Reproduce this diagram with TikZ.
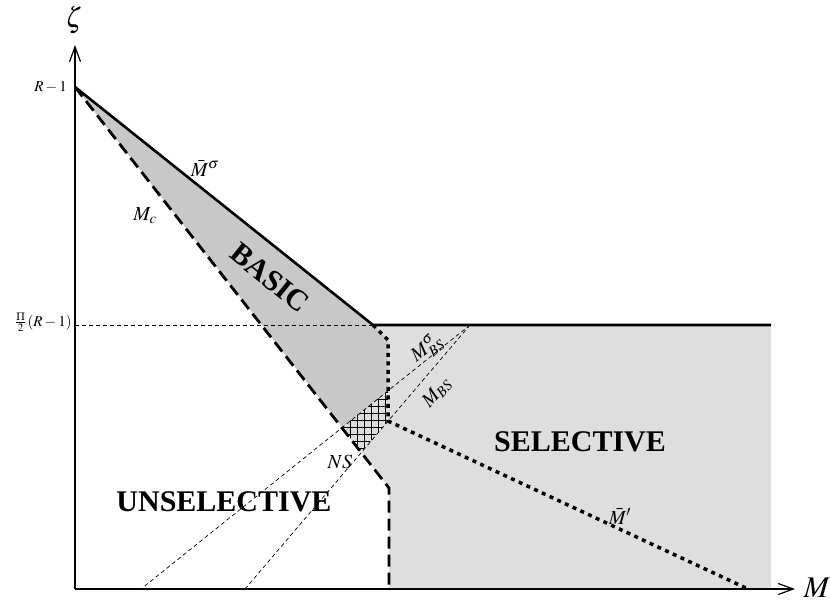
\documentclass[tikz,border=0pt]{standalone}
\usepackage{mathptmx}
\usepackage{fontspec}
\setmainfont{Liberation Serif}
\usetikzlibrary{arrows.meta}
\definecolor{basicg}{HTML}{C8C8C8}
\definecolor{selg}{HTML}{DEDEDE}
\tikzset{
  ax/.style={-{Straight Barb[length=15pt,width=11pt]},line width=1.2pt},
  bnd/.style={line width=2.6pt,line join=round},
  crit/.style={line width=2.8pt,dash pattern=on 12pt off 6pt},
  dotb/.style={line width=3.5pt,dash pattern=on 4pt off 4.5pt},
  aux/.style={line width=0.7pt,dash pattern=on 4pt off 3pt},
  lbl/.style={font=\fontsize{20}{22}\selectfont,inner sep=0pt},
  reg/.style={font=\bfseries\fontsize{30}{32}\selectfont,inner sep=0pt},
  tick/.style={font=\fontsize{15}{17}\selectfont,anchor=east,inner sep=0pt}
}
\begin{document}
\begin{tikzpicture}[x=1pt,y=-1pt]
\useasboundingbox (0,0) rectangle (830,607);
% key points
\coordinate (O) at (75,589);
\coordinate (Ytip) at (75,45);
\coordinate (Xtip) at (795,589);
\coordinate (T) at (75,87);
\coordinate (L) at (75,325);
\coordinate (K) at (373,325);
\coordinate (Kd) at (388,340);
\coordinate (E) at (771,325);
\coordinate (Eb) at (771,589);
\coordinate (H) at (470,325);
\coordinate (P1) at (388,391);
\coordinate (P2) at (342,427);
\coordinate (P3) at (361,452);
\coordinate (P4) at (388,421);
\coordinate (C1) at (389,488);
\coordinate (C2) at (389,589);
\coordinate (S1) at (141,589);
\coordinate (S2) at (245,589);
\coordinate (Q) at (748,589);
% regions
\fill[selg] (K) -- (E) -- (Eb) -- (C2) -- (C1) -- (P3) -- (P2) -- (P1) -- (Kd) -- cycle;
\fill[basicg] (T) -- (K) -- (Kd) -- (P1) -- (P2) -- cycle;
\begin{scope}
  \clip (P1) -- (P4) -- (P3) -- (P2) -- cycle;
  \draw[line width=0.9pt,step=7pt] (330,380) grid (400,460);
\end{scope}
% thin guides
\draw[aux] (L) -- (K);
\draw[aux] (H) -- (S1);
\draw[aux] (H) -- (S2);
% boundaries
\draw[bnd] (T) -- (K) -- (E);
\draw[crit] (T) -- (C1) -- (C2);
\draw[dotb] (K) -- (Kd) -- (P4) -- (Q);
% axes
\draw[ax] (O) -- (Ytip);
\draw[ax] (O) -- (Xtip);
% labels
\node[font=\fontsize{28}{30}\selectfont,inner sep=0pt] (zeta) at (74,20) {$\zeta$};
\node[font=\fontsize{30}{32}\selectfont] (mlab) at (817,588) {$M$};
\node[tick] (rlab) at (67,87) {$R-1$};
\node[tick] (plab) at (72,322) {$\frac{\Pi}{2}\,(R-1)$};
\node[lbl] (msig) at (205,168) {$\bar{M}^{\sigma}$};
\node[lbl] (mc) at (145,216) {$M_c$};
\node[reg,rotate=-38.7] (basic) at (270,278) {BASIC};
\node[reg] (sel) at (580,442) {SELECTIVE};
\node[reg] (unsel) at (224,502) {UNSELECTIVE};
\node[lbl] (ns) at (340,462) {$NS$};
\node[lbl] (mpr) at (620,516) {$\bar{M}'$};
\node[lbl,rotate=38.7] (mbss) at (427,349) {$M^{\sigma}_{BS}$};
\node[lbl,rotate=49.5] (mbs) at (437,393) {$M_{BS}$};
\end{tikzpicture}
\end{document}
